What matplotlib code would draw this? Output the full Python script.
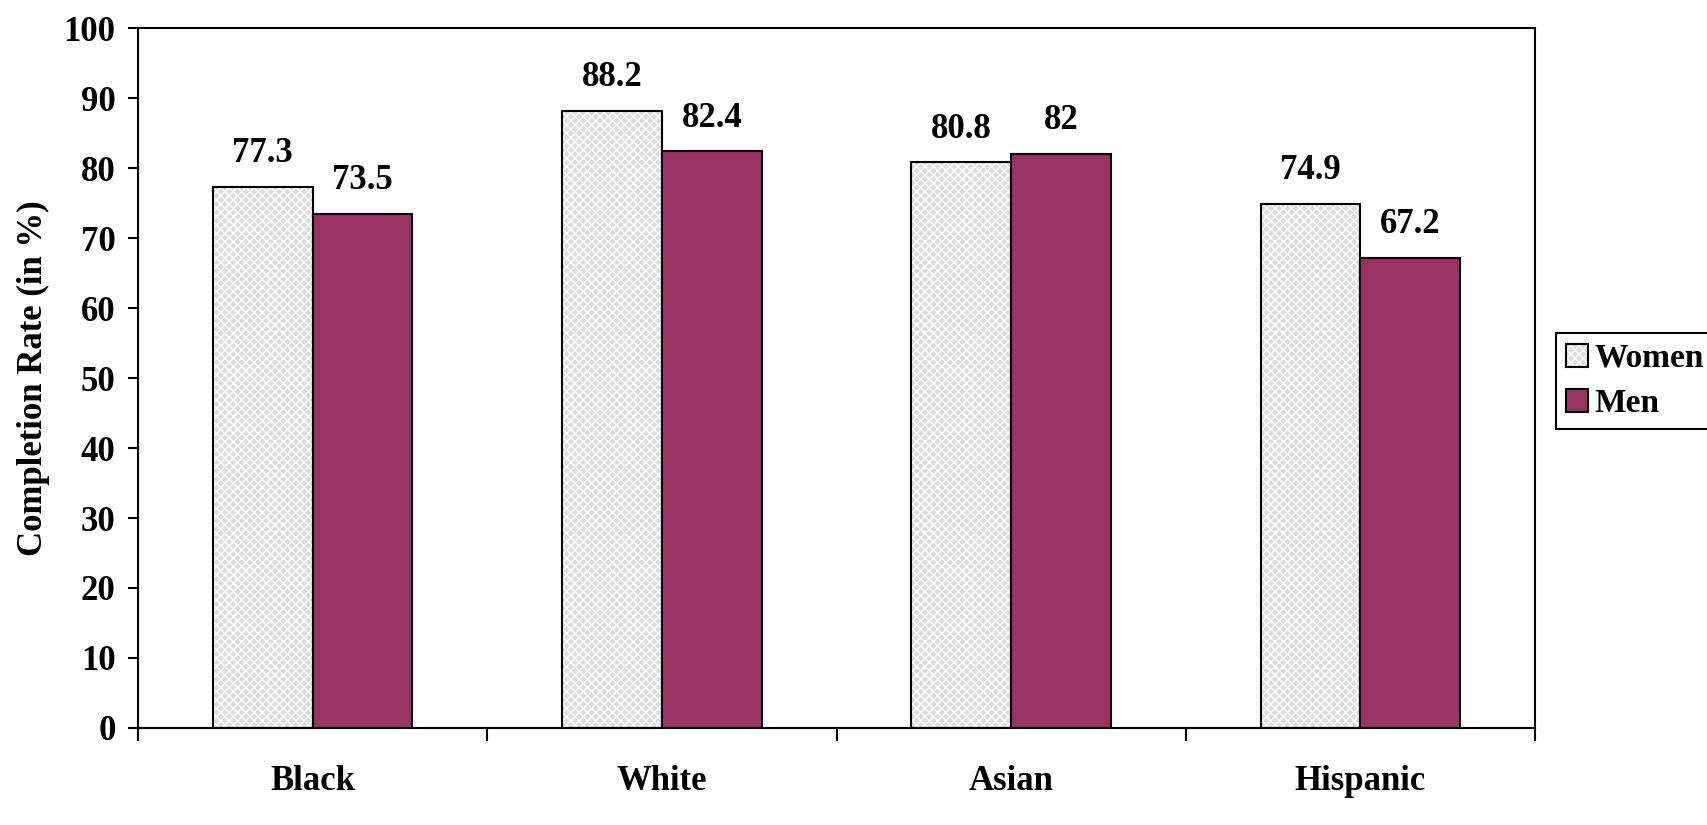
import matplotlib
matplotlib.use("Agg")
import matplotlib.pyplot as plt
import numpy as np
from matplotlib.patches import Patch
from matplotlib.legend_handler import HandlerTuple

categories = ["Black", "White", "Asian", "Hispanic"]
women = [77.3, 88.2, 80.8, 74.9]
men = [73.5, 82.4, 82.0, 67.2]
women_labels = ["77.3", "88.2", "80.8", "74.9"]
men_labels = ["73.5", "82.4", "82", "67.2"]
yticks = list(range(0, 101, 10))

plt.rcParams['font.family'] = ['Liberation Serif', 'DejaVu Serif']
plt.rcParams['font.weight'] = 'bold'
plt.rcParams['hatch.linewidth'] = 1.0

FS = 25

fig = plt.figure(figsize=(17.07, 8.25), dpi=100)
ax = fig.add_axes([0.0808, 0.1176, 0.8185, 0.8484])

x = np.arange(len(categories))
w = 0.286
women_face = '#dcdcdc'
men_face = '#993366'

# women: hatched fill, then black outline
ax.bar(x - w/2, women, w, color=women_face, edgecolor='white', hatch='xxxx', linewidth=0, zorder=2)
ax.bar(x - w/2, women, w, facecolor='none', edgecolor='black', linewidth=1.5, zorder=3)
ax.bar(x + w/2, men, w, color=men_face, edgecolor='black', linewidth=1.5, zorder=3)

for xi, v, lab in zip(x - w/2, women, women_labels):
    ax.annotate(lab, (xi, v), xytext=(0, 12), textcoords='offset points',
                ha='center', va='bottom', fontsize=FS, fontweight='bold')
for xi, v, lab in zip(x + w/2, men, men_labels):
    ax.annotate(lab, (xi, v), xytext=(0, 12), textcoords='offset points',
                ha='center', va='bottom', fontsize=FS, fontweight='bold')

ax.set_xlim(-0.5, len(categories) - 0.5)
ax.set_ylim(0, 100)
ax.set_yticks(yticks)
ax.set_yticklabels([str(t) for t in yticks], fontsize=FS, fontweight='bold')
ax.set_xticks(x)
ax.set_xticklabels(categories, fontsize=FS, fontweight='bold')
ax.set_xticks(np.arange(-0.5, len(categories), 1.0), minor=True)
ax.tick_params(axis='x', which='major', length=0, pad=27)
ax.tick_params(axis='x', which='minor', length=9, width=1.5, direction='out')
ax.tick_params(axis='y', which='major', length=7, width=1.5, direction='out', pad=9)
for s in ax.spines.values():
    s.set_linewidth(1.5)
ax.set_ylabel("Completion Rate (in %)", fontsize=FS, fontweight='bold', labelpad=10)

h_w = (Patch(facecolor=women_face, edgecolor='white', hatch='xxxx', linewidth=0),
       Patch(facecolor='none', edgecolor='black', linewidth=1.5))
h_m = Patch(facecolor=men_face, edgecolor='black', linewidth=1.5)
leg = fig.legend([h_w, h_m], ["Women", "Men"], loc='upper left',
                 bbox_to_anchor=(0.9115, 0.5964), frameon=True, fancybox=False,
                 edgecolor='black', framealpha=1, prop={'size': 24, 'weight': 'bold'},
                 handler_map={tuple: HandlerTuple(ndivide=1, pad=0)},
                 handlelength=0.66, handleheight=0.66, handletextpad=0.2,
                 borderpad=0.3, labelspacing=0.42, borderaxespad=0)
leg.get_frame().set_linewidth(1.5)

fig.savefig("out.png", dpi=100)
